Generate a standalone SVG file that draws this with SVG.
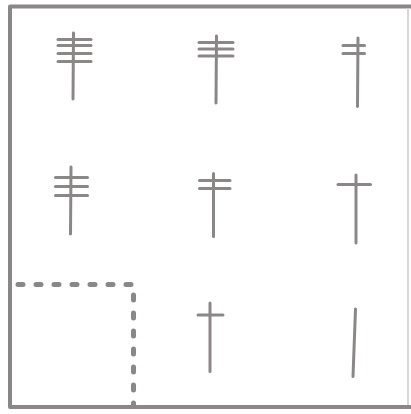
<svg xmlns="http://www.w3.org/2000/svg" width="411" height="414" viewBox="0 0 411 414">
<style>
.s{stroke:#8c8787;stroke-width:3;stroke-linecap:round;fill:none}
.b{stroke:#8c8787;stroke-width:4;fill:none;stroke-linejoin:round}
.d{stroke:#8c8787;stroke-width:5;stroke-linecap:round;fill:none;stroke-dasharray:5 13}
</style>
<rect width="411" height="414" fill="#ffffff"/>
<path class="b" d="M411,6.5 H10 V407 H411"/>
<line x1="408" y1="8" x2="408" y2="405" stroke="#d8d6d6" stroke-width="2"/>
<g id="n1"><line class="s" x1="73.5" y1="33" x2="73" y2="99"/><line class="s" x1="58" y1="39.5" x2="91" y2="39.5"/><line class="s" x1="58" y1="45.5" x2="91" y2="45.5"/><line class="s" x1="58" y1="53.5" x2="91" y2="53.5"/><line class="s" x1="58" y1="61.5" x2="91" y2="61.5"/></g>
<g id="n2"><line class="s" x1="216.5" y1="36" x2="216" y2="103"/><line class="s" x1="199" y1="42.5" x2="233" y2="42.5"/><line class="s" x1="199" y1="49" x2="233" y2="49"/><line class="s" x1="199" y1="56" x2="233" y2="56"/></g>
<g id="n3"><line class="s" x1="358" y1="38" x2="357.5" y2="106.5"/><line class="s" x1="343" y1="45.5" x2="364.5" y2="45.5"/><line class="s" x1="343" y1="53.5" x2="364.5" y2="53.5"/></g>
<g id="n4"><line class="s" x1="71" y1="167" x2="70.5" y2="234"/><line class="s" x1="55.5" y1="177.5" x2="87.5" y2="177.5"/><line class="s" x1="55.5" y1="186.5" x2="87.5" y2="186.5"/><line class="s" x1="55.5" y1="195.5" x2="87.5" y2="195.5"/></g>
<g id="n5"><line class="s" x1="213.5" y1="173.5" x2="213.5" y2="236.5"/><line class="s" x1="199.5" y1="180.5" x2="230" y2="180.5"/><line class="s" x1="199.5" y1="188.5" x2="230" y2="188.5"/></g>
<g id="n6"><line class="s" x1="356" y1="175" x2="356" y2="243"/><line class="s" x1="338" y1="184.5" x2="370.5" y2="184.5"/></g>
<g id="n7"><path class="d" d="M18,284.5 H133.5 V405"/></g>
<g id="n8"><line class="s" x1="210" y1="303" x2="210" y2="371.5"/><line class="s" x1="198" y1="315" x2="223" y2="315"/></g>
<g id="n9"><line class="s" x1="355.5" y1="309" x2="353" y2="376.5"/></g>
</svg>
